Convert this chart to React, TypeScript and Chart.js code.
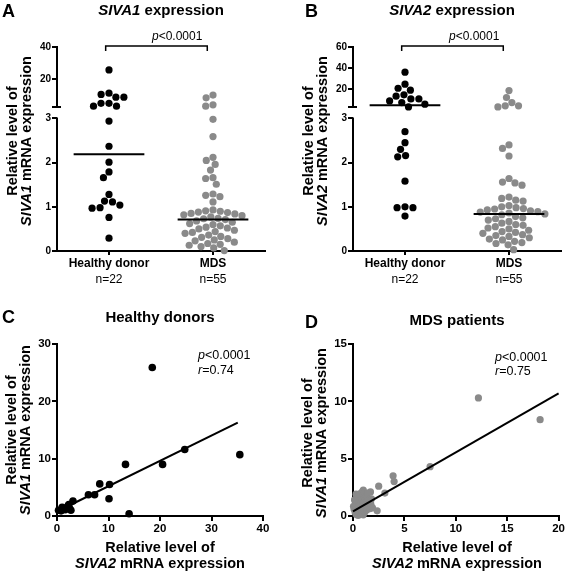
import React, { useEffect, useRef } from "react";
import { Chart, registerables } from "chart.js";

Chart.register(...registerables);

const FONT = "'Liberation Sans', Arial, Helvetica, sans-serif";
Chart.defaults.font.family = FONT;
Chart.defaults.color = "#000";

const BLACK = "#000000";
const GRAY = "#8a8a8a";

// ---------- Panels A / B : grouped dot plots ----------
const GROUPS = ["Healthy donor", "MDS"];
const GROUP_N = ["n=22", "n=55"];
const BREAK_AT = 3;

const SIVA1_HEALTHY = [25.9, 11.6, 10.8, 9.1, 9.1, 5.3, 5.3, 3.6, 3.6, 2.94, 2.37, 2.01, 1.79, 1.66, 1.28, 1.13, 1.11, 1.04, 0.98, 0.97, 0.76, 0.29];
const SIVA1_MDS = [
  10.4, 8.7, 4.4, 3.6, 2.98, 2.59, 2.12, 2.05, 1.96, 1.83, 1.66, 1.64, 1.51, 1.29, 1.26, 1.23, 1.11,
  0.93, 0.91, 0.9, 0.88, 0.87, 0.85, 0.84, 0.82, 0.8, 0.77, 0.74, 0.73, 0.71, 0.68, 0.65, 0.62, 0.6, 0.57, 0.54, 0.52,
  0.5, 0.47, 0.44, 0.42, 0.4, 0.36, 0.33, 0.31, 0.28, 0.25, 0.23, 0.2, 0.17, 0.15, 0.13, 0.1, 0.07, 0.01,
];
const SIVA1_MEDIANS = [2.19, 0.71];
const SIVA1_TICKS = [0, 1, 2, 3, 20, 40];
const SIVA1_MAX = 40;

const SIVA2_HEALTHY = [36.1, 24.7, 20.9, 19.1, 14.6, 13.4, 10.8, 10.8, 8.9, 7.3, 5.8, 3.2, 2.7, 2.45, 2.3, 2.16, 2.13, 1.58, 1.0, 0.98, 0.98, 0.79];
const SIVA2_MDS = [
  18.7, 12.1, 7.3, 4.2, 4.2, 3.2, 2.4, 2.32, 2.15, 1.64, 1.56, 1.54, 1.49, 1.22, 1.19, 1.15, 1.13,
  1.03, 1.0, 0.98, 0.96, 0.95, 0.93, 0.91, 0.89, 0.88, 0.86, 0.84, 0.82, 0.78, 0.75, 0.73, 0.7, 0.67, 0.63, 0.6, 0.58,
  0.55, 0.52, 0.5, 0.47, 0.44, 0.42, 0.4, 0.37, 0.35, 0.33, 0.3, 0.27, 0.25, 0.22, 0.19, 0.17, 0.14, 0.03,
];
const SIVA2_MEDIANS = [4.8, 0.84];
const SIVA2_TICKS = [0, 1, 2, 3, 20, 40, 60];
const SIVA2_MAX = 60;

const P_TEXT = "<0.0001";
const BRACKET = [0.968, 1.945];
const MEDIAN_HALF = 0.34;

// ---------- Panels C / D : correlations ----------
const HD_SIVA2 = [18.5, 35.5, 24.8, 20.5, 13.3, 8.3, 10.2, 6.1, 7.3, 10.1, 14.0, 3.1, 2.7, 2.3, 2.45, 2.16, 2.13, 1.58, 1.0, 0.98, 0.3, 0.79];
const HD_SIVA1 = [25.9, 10.7, 11.6, 9.0, 9.0, 5.6, 5.5, 3.7, 3.7, 3.0, 0.4, 2.6, 1.0, 2.0, 1.3, 1.8, 1.7, 1.1, 1.5, 1.1, 1.0, 0.9];
const HD_FIT = [0.78, 0.442]; // intercept, slope
const HD_FIT_RANGE = [0.3, 35.1];
const HD_R = "=0.74";

const MDS_SIVA2 = [
  12.2, 18.2, 7.5, 3.9, 4.0, 2.5, 3.1, 1.7, 2.35, 1.0,
  0.05, 0.1, 0.2, 0.25, 0.3, 0.35, 0.4, 0.45, 0.5, 0.5, 0.55, 0.6, 0.6, 0.65, 0.7, 0.7, 0.75, 0.8, 0.8, 0.85,
  0.9, 0.9, 0.95, 1.0, 1.0, 1.05, 1.1, 1.1, 1.15, 1.2, 1.25, 1.3, 1.35, 1.4, 1.45, 1.5, 1.55, 1.6, 1.65, 1.7,
  1.75, 1.8, 0.15, 0.3, 1.9,
];
const MDS_SIVA1 = [
  10.3, 8.4, 4.3, 3.5, 3.0, 2.6, 2.0, 2.1, 0.45, 2.25,
  0.85, 0.6, 0.35, 0.9, 0.15, 1.2, 0.5, 1.55, 0.05, 0.75, 1.0, 0.3, 1.75, 1.35, 0.6, 1.95, 0.2, 1.1, 1.6, 0.45,
  2.1, 0.85, 1.4, 0.1, 1.85, 0.65, 1.2, 2.05, 0.35, 1.55, 0.9, 1.75, 0.55, 1.3, 2.0, 0.8, 1.05, 1.45, 0.65, 1.2,
  0.95, 1.5, 1.4, 1.9, 0.7,
];
const MDS_FIT = [0.4, 0.515];
const MDS_FIT_RANGE = [0, 20];
const MDS_R = "=0.75";

// ---------- helpers ----------
const GAP = 0.256;
const UPPER = 1.36;
function makeT(max: number) {
  return (v: number) => (v <= BREAK_AT ? v : BREAK_AT + GAP + ((v - BREAK_AT) / (max - BREAK_AT)) * UPPER);
}

type Run = { t: string; i?: boolean };
type TextItem = { runs: Run[]; x: number; y: number; size: number; bold?: boolean; align?: "left" | "center"; rot?: boolean };

function drawItem(ctx: CanvasRenderingContext2D, it: TextItem) {
  ctx.save();
  ctx.translate(it.x, it.y);
  if (it.rot) ctx.rotate(-Math.PI / 2);
  const fontOf = (r: Run) => `${r.i ? "italic " : ""}${it.bold ? "bold " : ""}${it.size}px ${FONT}`;
  const widths = it.runs.map((r) => {
    ctx.font = fontOf(r);
    return ctx.measureText(r.t).width;
  });
  const total = widths.reduce((a, b) => a + b, 0);
  let x = it.align === "left" ? 0 : -total / 2;
  ctx.fillStyle = "#000";
  ctx.textAlign = "left";
  ctx.textBaseline = "alphabetic";
  it.runs.forEach((r, k) => {
    ctx.font = fontOf(r);
    ctx.fillText(r.t, x, 0);
    x += widths[k];
  });
  ctx.restore();
}

function textPlugin(items: TextItem[]) {
  return {
    id: "panelText",
    afterDraw(chart: any) {
      items.forEach((it) => drawItem(chart.ctx, it));
    },
  };
}

function swarm(chart: any, dsIndex: number, cat: number, d: number) {
  const ds = chart.data.datasets[dsIndex];
  const xs = chart.scales.x;
  const ys = chart.scales.y;
  const unit = xs.getPixelForValue(cat + 1) - xs.getPixelForValue(cat);
  const pts = ds.data.map((p: any, i: number) => ({ i, y: ys.getPixelForValue(p.y) }));
  pts.sort((a: any, b: any) => a.y - b.y);
  const placed: { x: number; y: number }[] = [];
  const out = ds.data.slice();
  pts.forEach((p: any) => {
    const cands = [0];
    placed.forEach((q) => {
      const dy = Math.abs(q.y - p.y);
      if (dy < d) {
        const dx = Math.sqrt(d * d - dy * dy);
        cands.push(q.x + dx, q.x - dx);
      }
    });
    cands.sort((a, b) => Math.abs(a) - Math.abs(b) || a - b);
    const ok = cands.find((c) => placed.every((q) => (c - q.x) ** 2 + (p.y - q.y) ** 2 >= d * d - 0.01)) ?? 0;
    placed.push({ x: ok, y: p.y });
    out[p.i] = { x: cat + ok / unit, y: ds.data[p.i].y };
  });
  ds.data = out;
}

const tickGrid = (len: number) => ({ drawOnChartArea: false, drawTicks: true, tickLength: len, color: "#000", lineWidth: 2 });
const commonOpts = {
  responsive: false,
  animation: false as const,
  devicePixelRatio: 1,
  events: [] as any[],
  plugins: { legend: { display: false }, tooltip: { enabled: false } },
};

type DotCfg = {
  letter: string; letterX: number; gene: string; titleX: number; yTitleX: [number, number]; pX: number;
  healthy: number[]; mds: number[]; medians: number[]; ticks: number[]; max: number; yWidth: number; padRight: number;
};

function makeDotPanel(canvas: HTMLCanvasElement, c: DotCfg) {
  const T = makeT(c.max);
  const tickList = [...c.ticks.map((v) => ({ value: T(v), label: String(v) })), { value: BREAK_AT + GAP, label: "" }].sort(
    (a, b) => a.value - b.value
  );
  const medianLine = (cat: number, m: number) => [
    { x: cat - MEDIAN_HALF, y: T(m) },
    { x: cat + MEDIAN_HALF, y: T(m) },
  ];
  const texts: TextItem[] = [
    { runs: [{ t: c.letter }], x: c.letterX, y: 17, size: 18, bold: true, align: "left" },
    { runs: [{ t: c.gene, i: true }, { t: " expression" }], x: c.titleX, y: 15, size: 15, bold: true },
    { runs: [{ t: "Relative level of" }], x: c.yTitleX[0], y: 141, size: 14.5, bold: true, rot: true },
    { runs: [{ t: c.gene, i: true }, { t: " mRNA expression" }], x: c.yTitleX[1], y: 141, size: 14.5, bold: true, rot: true },
    { runs: [{ t: "p", i: true }, { t: P_TEXT }], x: c.pX, y: 40, size: 12, align: "left" },
  ];
  const axisPlugin = {
    id: "breakAxis",
    afterDraw(chart: any) {
      const { ctx, chartArea: ca, scales } = chart;
      const y = scales.y;
      const x = scales.x;
      ctx.save();
      ctx.strokeStyle = "#000";
      ctx.lineWidth = 2;
      ctx.beginPath();
      ctx.moveTo(ca.left, y.getPixelForValue(0) + 1);
      ctx.lineTo(ca.left, y.getPixelForValue(BREAK_AT) - 1);
      ctx.moveTo(ca.left + 4, y.getPixelForValue(BREAK_AT + GAP));
      ctx.lineTo(ca.left, y.getPixelForValue(BREAK_AT + GAP));
      ctx.lineTo(ca.left, y.getPixelForValue(T(c.max)) - 1);
      ctx.stroke();
      // significance bracket
      const by = ca.top - 1;
      const bx0 = x.getPixelForValue(BRACKET[0]);
      const bx1 = x.getPixelForValue(BRACKET[1]);
      ctx.lineWidth = 1.5;
      ctx.beginPath();
      ctx.moveTo(bx0, by + 5);
      ctx.lineTo(bx0, by);
      ctx.lineTo(bx1, by);
      ctx.lineTo(bx1, by + 5);
      ctx.stroke();
      ctx.restore();
      GROUP_N.forEach((n, k) =>
        drawItem(ctx, { runs: [{ t: n }], x: x.getPixelForValue(k + 1), y: 283, size: 12 })
      );
    },
  };
  const chart = new Chart(canvas, {
    type: "scatter",
    data: {
      datasets: [
        { data: medianLine(1, c.medians[0]), showLine: true, borderColor: BLACK, borderWidth: 2, pointRadius: 0, order: 0, clip: false } as any,
        { data: medianLine(2, c.medians[1]), showLine: true, borderColor: BLACK, borderWidth: 2, pointRadius: 0, order: 0, clip: false } as any,
        { data: c.healthy.map((v) => ({ x: 1, y: T(v) })), backgroundColor: BLACK, pointRadius: 3.6, borderWidth: 0, order: 1, clip: false } as any,
        { data: c.mds.map((v) => ({ x: 2, y: T(v) })), backgroundColor: GRAY, pointRadius: 3.6, borderWidth: 0, order: 1, clip: false } as any,
      ],
    },
    options: {
      ...commonOpts,
      layout: { padding: { left: 0, top: 47, right: c.padRight, bottom: 19 } },
      scales: {
        x: {
          type: "linear", min: 0.5, max: 2.5, bounds: "data",
          afterBuildTicks: (s: any) => { s.ticks = [{ value: 1 }, { value: 2 }]; },
          ticks: { autoSkip: false, maxRotation: 0, callback: (_v: any, i: number) => GROUPS[i], font: { size: 12, weight: "bold" }, color: "#000", padding: 1 },
          grid: tickGrid(4),
          border: { display: true, color: "#000", width: 2 },
          afterFit: (s: any) => { s.height = 20; },
        },
        y: {
          type: "linear", min: 0, max: T(c.max), bounds: "data",
          afterBuildTicks: (s: any) => { s.ticks = tickList.map((t) => ({ value: t.value })); },
          ticks: { autoSkip: false, callback: (_v: any, i: number) => tickList[i].label, font: { size: 10, weight: "bold" }, color: "#000", padding: 1 },
          grid: tickGrid(5),
          border: { display: false },
          afterFit: (s: any) => { s.width = c.yWidth; },
        },
      } as any,
    } as any,
    plugins: [axisPlugin, textPlugin(texts)],
  });
  swarm(chart, 2, 1, 8);
  swarm(chart, 3, 2, 7.4);
  chart.update("none");
  return chart;
}

type CorrCfg = {
  letter: string; letterX: number; letterY: number; title: string; titleX: number; titleY: number;
  yTitleX: [number, number]; yTitleY: number; statX: number; statY: [number, number]; xTitleX: number;
  xs: number[]; ys: number[]; color: string; radius: number; fit: number[]; fitRange: number[]; r: string;
  xMax: number; xStep: number; yMax: number; yStep: number; yWidth: number; padRight: number;
};

function makeCorrPanel(canvas: HTMLCanvasElement, c: CorrCfg) {
  const texts: TextItem[] = [
    { runs: [{ t: c.letter }], x: c.letterX, y: c.letterY, size: 18, bold: true, align: "left" },
    { runs: [{ t: c.title }], x: c.titleX, y: c.titleY, size: 15, bold: true },
    { runs: [{ t: "Relative level of" }], x: c.yTitleX[0], y: c.yTitleY, size: 14.5, bold: true, rot: true },
    { runs: [{ t: "SIVA1", i: true }, { t: " mRNA expression" }], x: c.yTitleX[1], y: c.yTitleY, size: 14.5, bold: true, rot: true },
    { runs: [{ t: "p", i: true }, { t: P_TEXT }], x: c.statX, y: c.statY[0], size: 12.5, align: "left" },
    { runs: [{ t: "r", i: true }, { t: c.r }], x: c.statX, y: c.statY[1], size: 12.5, align: "left" },
    { runs: [{ t: "Relative level of" }], x: c.xTitleX, y: 262, size: 14.5, bold: true },
    { runs: [{ t: "SIVA2", i: true }, { t: " mRNA expression" }], x: c.xTitleX, y: 278, size: 14.5, bold: true },
  ];
  return new Chart(canvas, {
    type: "scatter",
    data: {
      datasets: [
        {
          data: c.fitRange.map((x) => ({ x, y: c.fit[0] + c.fit[1] * x })),
          showLine: true, borderColor: BLACK, borderWidth: 2, pointRadius: 0, order: 0, clip: false,
        } as any,
        {
          data: c.xs.map((x, i) => ({ x, y: c.ys[i] })),
          backgroundColor: c.color, pointRadius: c.radius, borderWidth: 0, order: 1, clip: false,
        } as any,
      ],
    },
    options: {
      ...commonOpts,
      layout: { padding: { left: 0, top: 54, right: c.padRight, bottom: 37 } },
      scales: {
        x: {
          type: "linear", min: 0, max: c.xMax, bounds: "data",
          ticks: { stepSize: c.xStep, maxRotation: 0, font: { size: 11.5, weight: "bold" }, color: "#000", padding: 1 },
          grid: tickGrid(5),
          border: { display: true, color: "#000", width: 2 },
          afterFit: (s: any) => { s.height = 18; },
        },
        y: {
          type: "linear", min: 0, max: c.yMax, bounds: "data",
          ticks: { stepSize: c.yStep, font: { size: 11.5, weight: "bold" }, color: "#000", padding: 1 },
          grid: tickGrid(5),
          border: { display: true, color: "#000", width: 2 },
          afterFit: (s: any) => { s.width = c.yWidth; },
        },
      } as any,
    } as any,
    plugins: [textPlugin(texts)],
  });
}

export default function App() {
  const rA = useRef<HTMLCanvasElement>(null);
  const rB = useRef<HTMLCanvasElement>(null);
  const rC = useRef<HTMLCanvasElement>(null);
  const rD = useRef<HTMLCanvasElement>(null);

  useEffect(() => {
    const charts: Chart[] = [];
    charts.push(
      makeDotPanel(rA.current!, {
        letter: "A", letterX: 2, gene: "SIVA1", titleX: 161, yTitleX: [17, 31], pX: 152,
        healthy: SIVA1_HEALTHY, mds: SIVA1_MDS, medians: SIVA1_MEDIANS, ticks: SIVA1_TICKS, max: SIVA1_MAX,
        yWidth: 57, padRight: 18,
      })
    );
    charts.push(
      makeDotPanel(rB.current!, {
        letter: "B", letterX: 22, gene: "SIVA2", titleX: 169, yTitleX: [30, 44], pX: 166,
        healthy: SIVA2_HEALTHY, mds: SIVA2_MDS, medians: SIVA2_MEDIANS, ticks: SIVA2_TICKS, max: SIVA2_MAX,
        yWidth: 70, padRight: 5,
      })
    );
    charts.push(
      makeCorrPanel(rC.current!, {
        letter: "C", letterX: 2, letterY: 33, title: "Healthy donors", titleX: 160, titleY: 32,
        yTitleX: [16, 29.5], yTitleY: 140, statX: 198, statY: [69, 84], xTitleX: 160,
        xs: HD_SIVA2, ys: HD_SIVA1, color: BLACK, radius: 3.8, fit: HD_FIT, fitRange: HD_FIT_RANGE, r: HD_R,
        xMax: 40, xStep: 10, yMax: 30, yStep: 10, yWidth: 57, padRight: 20,
      })
    );
    charts.push(
      makeCorrPanel(rD.current!, {
        letter: "D", letterX: 22, letterY: 38, title: "MDS patients", titleX: 174, titleY: 35,
        yTitleX: [28.5, 42.5], yTitleY: 143, statX: 212, statY: [71, 85], xTitleX: 174,
        xs: MDS_SIVA2, ys: MDS_SIVA1, color: GRAY, radius: 3.6, fit: MDS_FIT, fitRange: MDS_FIT_RANGE, r: MDS_R,
        xMax: 20, xStep: 5, yMax: 15, yStep: 5, yWidth: 70, padRight: 6,
      })
    );
    return () => charts.forEach((ch) => ch.destroy());
  }, []);

  const cv = (left: number, top: number, h: number): React.CSSProperties => ({
    position: "absolute", left, top, width: 283, height: h, display: "block",
  });

  return (
    <div style={{ position: "absolute", left: 0, top: 0, width: 566, height: 571, background: "#fff" }}>
      <canvas ref={rA} width={283} height={290} style={cv(0, 0, 290)} />
      <canvas ref={rB} width={283} height={290} style={cv(283, 0, 290)} />
      <canvas ref={rC} width={283} height={281} style={cv(0, 290, 281)} />
      <canvas ref={rD} width={283} height={281} style={cv(283, 290, 281)} />
    </div>
  );
}
